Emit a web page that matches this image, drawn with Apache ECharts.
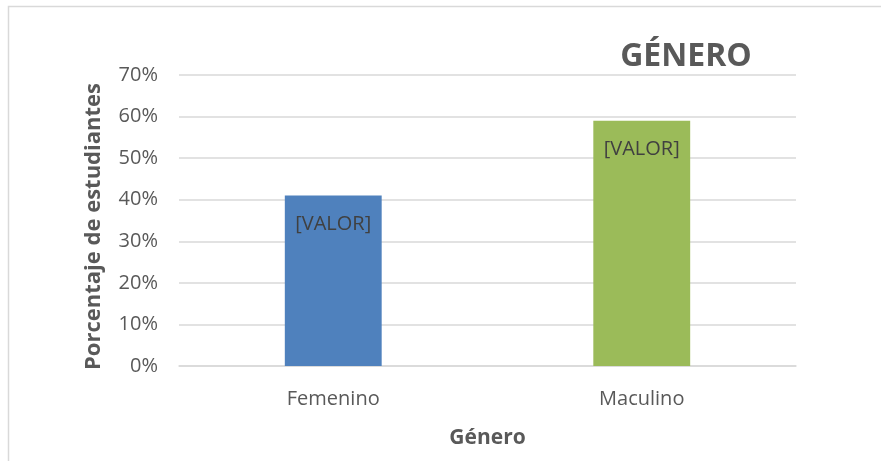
<!DOCTYPE html>
<html>
<head>
<meta charset="utf-8">
<script src="https://cdn.jsdelivr.net/npm/echarts@6/dist/echarts.min.js"></script>
<style>
  html, body { margin: 0; padding: 0; background: #fff; }
  #chart { width: 881px; height: 461px; }
</style>
</head>
<body>
<div id="chart"></div>
<script>
const categories = ['Femenino', 'Maculino'];
const values = [41, 59];
const barColors = ['#4f81bd', '#9bbb59'];
const yTicks = [0, 10, 20, 30, 40, 50, 60, 70];

const chart = echarts.init(document.getElementById('chart'));
const font = '"Open Sans", sans-serif';

chart.setOption({
  animation: false,
  graphic: [{
    type: 'rect',
    shape: { x: 8.5, y: 6.5, width: 900, height: 500 },
    style: { fill: 'none', stroke: '#d9d9d9', lineWidth: 1.5 },
    silent: true
  }],
  title: {
    text: 'GÉNERO',
    left: 681,
    top: 36,
    textAlign: 'center',
    textStyle: { fontFamily: font, fontSize: 32, fontWeight: 'bold', color: '#595959' }
  },
  grid: { left: 179, right: 85, top: 75, bottom: 95, containLabel: false },
  xAxis: {
    type: 'category',
    data: categories,
    name: 'Género',
    nameLocation: 'middle',
    nameGap: 62,
    nameTextStyle: { fontFamily: font, fontSize: 21, fontWeight: 'bold', color: '#595959' },
    axisLine: { lineStyle: { color: '#d9d9d9', width: 1.5 } },
    axisTick: { show: false },
    axisLabel: { fontFamily: font, fontSize: 20, color: '#595959', margin: 23 }
  },
  yAxis: {
    type: 'value',
    min: yTicks[0],
    max: yTicks[yTicks.length - 1],
    interval: 10,
    name: 'Porcentaje de estudiantes',
    nameLocation: 'middle',
    nameGap: 74,
    nameTextStyle: { fontFamily: font, fontSize: 22, fontWeight: 'bold', color: '#595959', padding: [0, 12, 0, 0] },
    axisLine: { show: false },
    axisTick: { show: false },
    splitLine: { lineStyle: { color: '#d9d9d9', width: 1.5 } },
    axisLabel: { fontFamily: font, fontSize: 20, color: '#595959', margin: 21, formatter: '{value}%' }
  },
  series: [{
    type: 'bar',
    barWidth: '31.4%',
    data: values.map((v, i) => ({ value: v, itemStyle: { color: barColors[i] } })),
    label: {
      show: true,
      position: 'insideTop',
      distance: 19,
      formatter: '[VALOR]',
      fontFamily: font,
      fontSize: 20,
      color: '#404040'
    }
  }]
});
</script>
</body>
</html>
